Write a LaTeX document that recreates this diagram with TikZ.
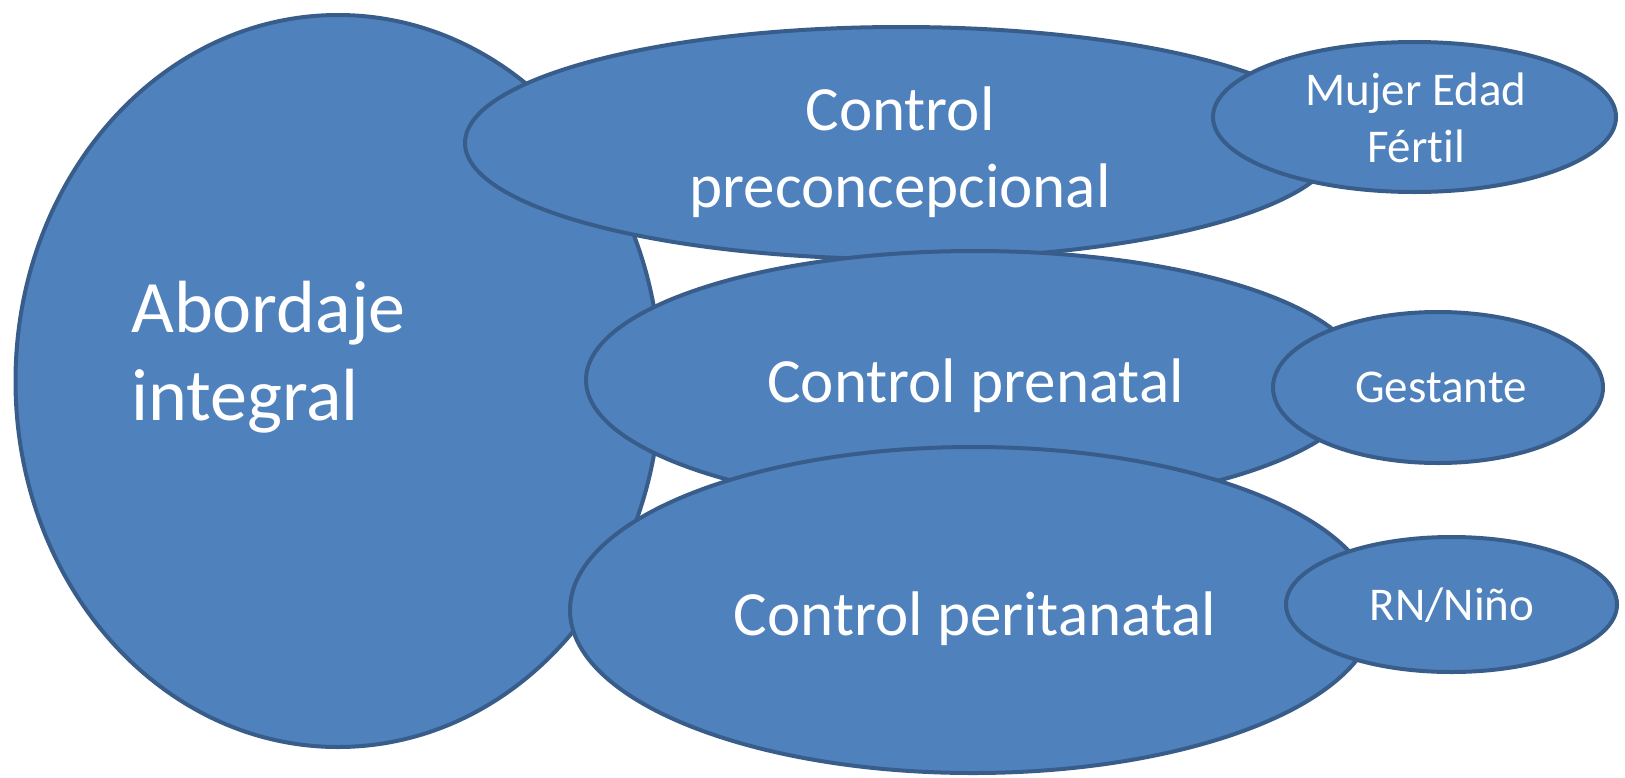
\documentclass[tikz,border=0pt]{standalone}
\usepackage{fontspec}
\setmainfont{Carlito}[Ligatures=NoCommon]
\usetikzlibrary{shapes.geometric}
\definecolor{bubblefill}{HTML}{4F81BD}
\definecolor{bubbleline}{HTML}{385D8A}
\tikzset{
  bubble/.style={ellipse, draw=bubbleline, fill=bubblefill, line width=4pt, inner sep=0pt},
  bigtext/.style={text=white, inner sep=0pt, font=\fontsize{74}{88}\selectfont},
  midtext/.style={text=white, inner sep=0pt, font=\fontsize{63}{77}\selectfont},
  smalltext/.style={text=white, inner sep=0pt, font=\fontsize{47}{57}\selectfont}
}
\begin{document}
\begin{tikzpicture}[x=1pt,y=-1pt]
  \useasboundingbox (0,0) rectangle (1625,777);

  % central bubble
  \node[bubble, minimum width=645pt, minimum height=732pt] (abordaje) at (338,381) {};
  \node[bigtext, anchor=base west] (abordajeA) at (131,332) {Abordaje};
  \node[bigtext, anchor=base west] (abordajeB) at (131,420) {integral};

  % preconception control and its target group
  \node[bubble, minimum width=872pt, minimum height=232pt] (precon) at (901,143) {};
  \node[midtext, anchor=base] (preconA) at (900,130) {Control};
  \node[midtext, anchor=base] (preconB) at (900,207) {preconcepcional};
  \node[bubble, minimum width=403pt, minimum height=150pt] (mujer) at (1414.5,117) {};
  \node[smalltext, anchor=base] (mujerA) at (1416,105) {Mujer Edad};
  \node[smalltext, anchor=base] (mujerB) at (1416,162) {Fértil};

  % prenatal control and its target group
  \node[bubble, minimum width=778pt, minimum height=258pt] (prenatal) at (975,380) {};
  \node[midtext, anchor=base] (prenatalT) at (975.5,402) {Control prenatal};
  \node[bubble, minimum width=330pt, minimum height=151pt] (gestante) at (1438,387.5) {};
  \node[smalltext, anchor=base] (gestanteT) at (1441,402) {Gestante};

  % perinatal control and its target group
  \node[bubble, minimum width=806pt, minimum height=326pt] (perinatal) at (973,610) {};
  \node[midtext, anchor=base] (perinatalT) at (975,635) {Control peritanatal};
  \node[bubble, minimum width=331pt, minimum height=135pt] (nino) at (1451.5,604.5) {};
  \node[smalltext, anchor=base] (ninoT) at (1452,620) {RN/Niño};
\end{tikzpicture}
\end{document}
